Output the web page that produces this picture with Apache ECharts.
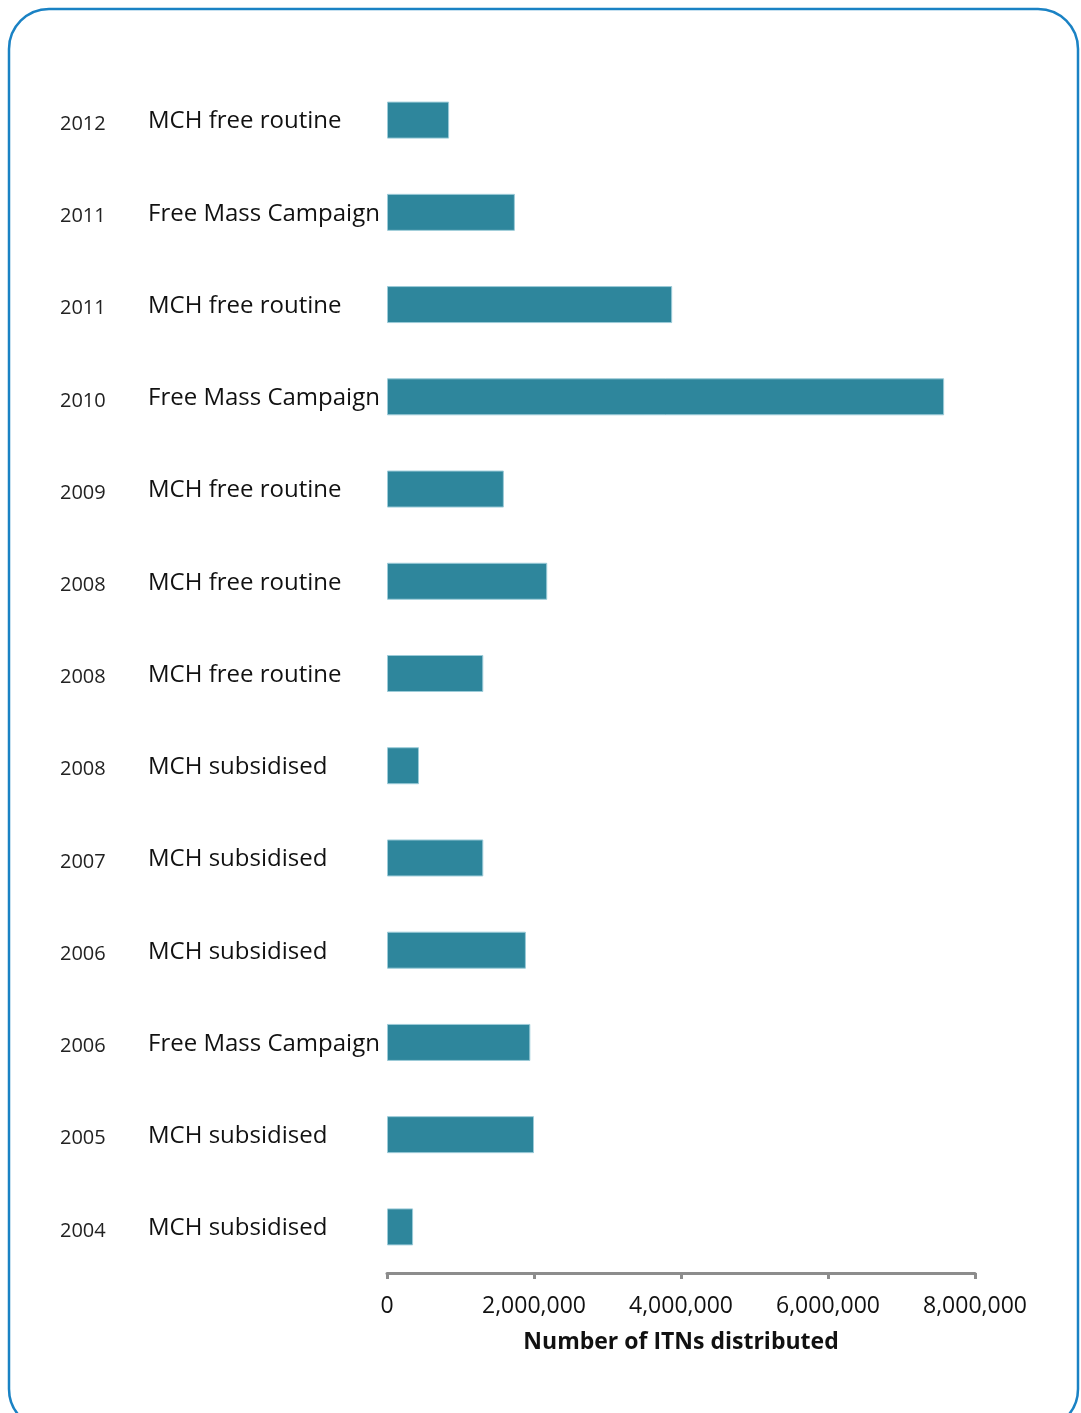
<!DOCTYPE html>
<html>
<head>
<meta charset="utf-8">
<script src="https://cdn.jsdelivr.net/npm/echarts@6/dist/echarts.min.js"></script>
<style>
  html, body { margin: 0; padding: 0; background: #ffffff; }
  #chart { width: 1081px; height: 1413px; }
</style>
</head>
<body>
<div id="chart"></div>
<script>
// ITN distribution by year and channel, listed top to bottom
const years = ['2012', '2011', '2011', '2010', '2009', '2008', '2008', '2008', '2007', '2006', '2006', '2005', '2004'];
const channels = ['MCH free routine', 'Free Mass Campaign', 'MCH free routine', 'Free Mass Campaign',
  'MCH free routine', 'MCH free routine', 'MCH free routine', 'MCH subsidised', 'MCH subsidised',
  'MCH subsidised', 'Free Mass Campaign', 'MCH subsidised', 'MCH subsidised'];
const itnsDistributed = [845000, 1740000, 3880000, 7580000, 1590000, 2180000, 1310000, 435000,
  1310000, 1890000, 1950000, 2000000, 355000];
const xTicks = [0, 2000000, 4000000, 6000000, 8000000];

const categories = years.map((y, i) => y + '|' + channels[i]);
const fontFamily = '"Open Sans", "Liberation Sans", sans-serif';

const chart = echarts.init(document.getElementById('chart'), null, { renderer: 'canvas' });
chart.setOption({
  animation: false,
  backgroundColor: '#ffffff',
  graphic: [{
    type: 'rect',
    shape: { x: 9, y: 9, width: 1069, height: 1420, r: 40 },
    style: { fill: 'none', stroke: '#1a82c4', lineWidth: 2.5 },
    silent: true,
    z: 100
  }],
  grid: { left: 387, right: 106, top: 74, bottom: 140, containLabel: false },
  xAxis: {
    type: 'value',
    min: xTicks[0],
    max: xTicks[xTicks.length - 1],
    interval: xTicks[1] - xTicks[0],
    name: 'Number of ITNs distributed',
    nameLocation: 'middle',
    nameGap: 58,
    nameTextStyle: { fontFamily, fontSize: 23, fontWeight: 'bold', color: '#111111' },
    axisLine: { show: true, lineStyle: { color: '#8c8c8c', width: 3 } },
    axisTick: { show: true, length: 6, lineStyle: { color: '#8c8c8c', width: 3 } },
    splitLine: { show: false },
    axisLabel: {
      fontFamily, fontSize: 23, color: '#111111', margin: 22,
      formatter: v => v === 0 ? '0' : v.toLocaleString('en-US')
    }
  },
  yAxis: {
    type: 'category',
    inverse: true,
    data: categories,
    axisLine: { show: false },
    axisTick: { show: false },
    axisLabel: {
      align: 'left',
      margin: 327,
      formatter: v => {
        const [y, c] = v.split('|');
        return '{y|' + y + '}{t|' + c + '}';
      },
      rich: {
        y: { fontFamily, fontSize: 20, color: '#222222', width: 88, padding: [8, 0, 0, 0] },
        t: { fontFamily, fontSize: 24, color: '#111111', padding: [3, 0, 0, 0] }
      }
    }
  },
  series: [{
    type: 'bar',
    data: itnsDistributed,
    barWidth: 37,
    itemStyle: { color: '#2e869c', borderColor: '#9ccbd8', borderWidth: 1 }
  }]
});
</script>
</body>
</html>
